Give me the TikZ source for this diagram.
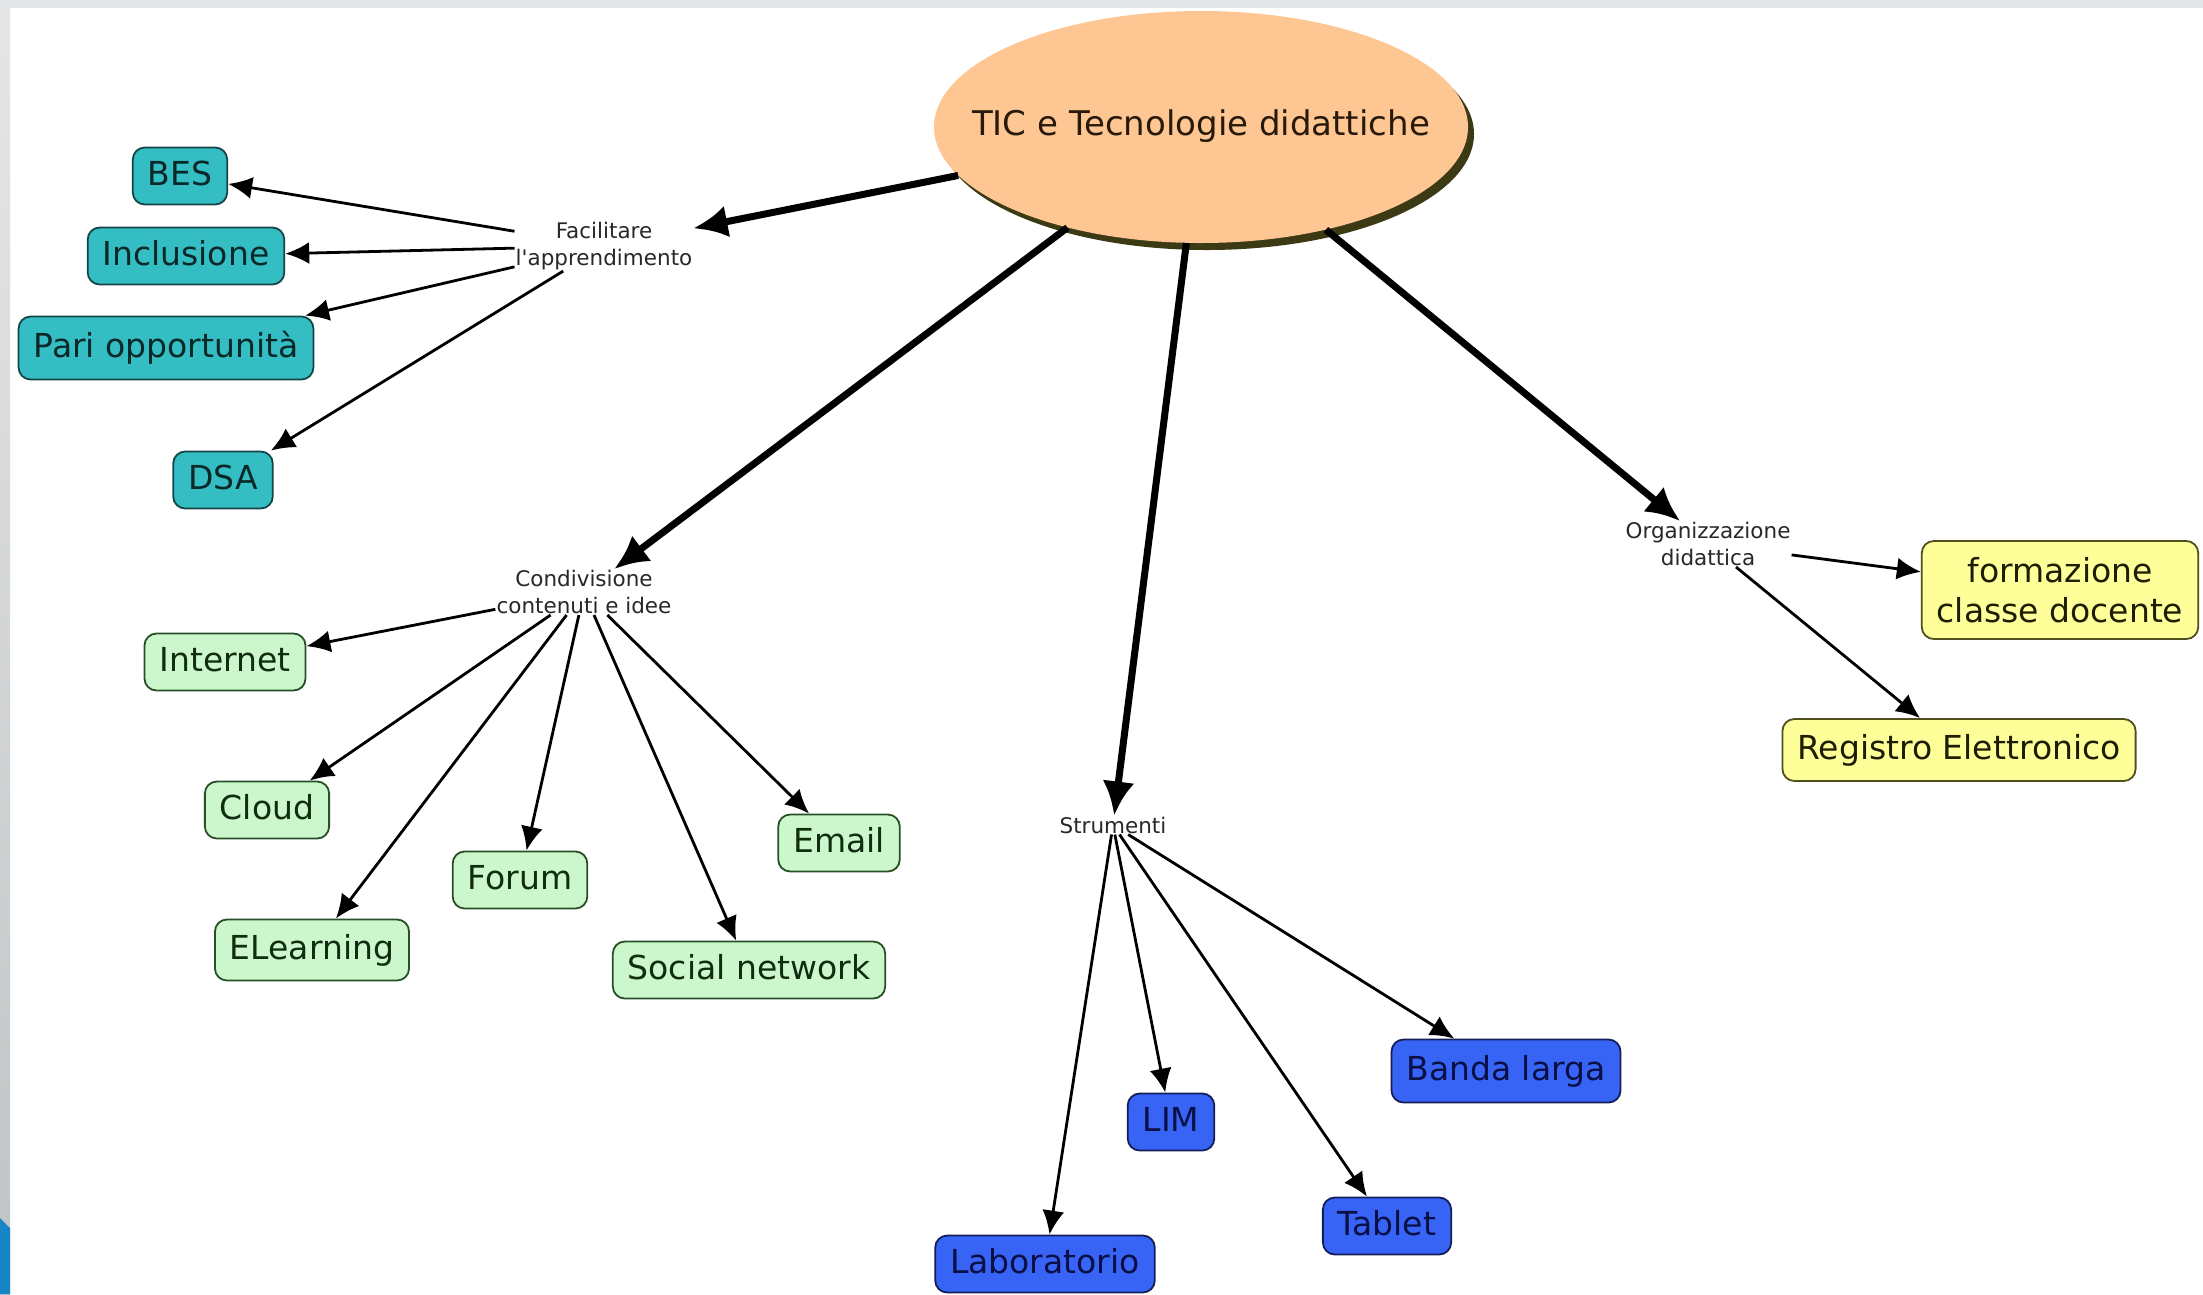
\documentclass[tikz,border=0pt]{standalone}
\usepackage{fontspec}
\setmainfont{DejaVu Sans}
\usetikzlibrary{arrows.meta,shapes.geometric,shadows}
\definecolor{tealfill}{RGB}{52,189,194}
\definecolor{tealline}{RGB}{20,70,72}
\definecolor{tealtext}{RGB}{10,40,40}
\definecolor{greenfill}{RGB}{204,246,204}
\definecolor{greenline}{RGB}{40,80,40}
\definecolor{greentext}{RGB}{15,45,15}
\definecolor{bluefill}{RGB}{55,100,245}
\definecolor{blueline}{RGB}{20,30,90}
\definecolor{bluetext}{RGB}{10,15,70}
\definecolor{yellowfill}{RGB}{255,255,153}
\definecolor{yellowline}{RGB}{80,80,30}
\definecolor{yellowtext}{RGB}{30,30,5}
\definecolor{peach}{RGB}{253,198,146}
\definecolor{shadowcol}{RGB}{60,58,20}
\definecolor{roottext}{RGB}{40,25,10}
\definecolor{lbltext}{RGB}{40,40,40}
\definecolor{graystrip}{RGB}{229,230,231}
\definecolor{graydark}{RGB}{192,196,198}
\definecolor{edgeblue}{RGB}{23,133,198}
\begin{document}
\begin{tikzpicture}[x=1pt,y=-1pt,
  boxbase/.style={rounded corners=12pt, line width=1.8pt, inner xsep=15pt, inner ysep=0pt,
    font=\fontsize{33}{40}\selectfont, align=center},
  box/.style={boxbase, minimum height=57pt, text height=25pt, text depth=7pt},
  tealbox/.style={box, fill=tealfill, draw=tealline, text=tealtext},
  greenbox/.style={box, fill=greenfill, draw=greenline, text=greentext},
  bluebox/.style={box, fill=bluefill, draw=blueline, text=bluetext},
  yellowbox/.style={box, fill=yellowfill, draw=yellowline, text=yellowtext},
  lbl/.style={font=\fontsize{21.5}{27}\selectfont, align=center, inner sep=1pt, text=lbltext},
  rootnode/.style={ellipse, fill=peach, minimum width=534pt, minimum height=232pt, inner sep=0pt,
    text height=10pt, text depth=0pt,
    font=\fontsize{34}{40}\selectfont, text=roottext,
    drop shadow={shadow xshift=6pt, shadow yshift=-7pt, fill=shadowcol, opacity=1}},
  smallarrow/.style={-{Latex[length=24pt,width=22pt]}, line width=2.8pt},
  bigarrow/.style={-{Latex[length=34pt,width=32pt]}, line width=7pt}
]
\useasboundingbox (0,0) rectangle (2203,1294);
\fill[white] (0,0) rectangle (2203,1294);
\fill[graystrip] (0,0) rectangle (2203,8);
\shade[top color=graystrip, bottom color=graydark] (0,0) rectangle (10,1294);
\fill[edgeblue] (0,1218) -- (10,1228) -- (10,1294) -- (0,1294) -- cycle;

% root
\node[rootnode] (root) at (1201,127) {\makebox[0pt]{\raisebox{-3pt}[0pt][0pt]{TIC e Tecnologie didattiche}}};

% concept labels
\node[lbl] (fac) at (604,246) {Facilitare\\l\textquotesingle apprendimento};
\node[lbl] (cond) at (584,592) {Condivisione\\contenuti e idee};
\node[lbl] (stru) at (1113,825) {Strumenti};
\node[lbl] (org) at (1708,544) {Organizzazione\\didattica};

% teal leaves
\node[tealbox] (bes) at (180,176) {BES};
\node[tealbox] (incl) at (186,256) {Inclusione};
\node[tealbox, minimum height=63pt] (pari) at (166,348) {Pari opportunità};
\node[tealbox] (dsa) at (223,480) {DSA};

% green leaves
\node[greenbox] (internet) at (225,662) {Internet};
\node[greenbox] (cloud) at (267,810) {Cloud};
\node[greenbox, minimum height=61pt] (elearn) at (312,950) {ELearning};
\node[greenbox] (forum) at (520,880) {Forum};
\node[greenbox] (social) at (749,970) {Social network};
\node[greenbox] (email) at (839,843) {Email};

% blue leaves
\node[bluebox] (lab) at (1045,1264) {Laboratorio};
\node[bluebox] (lim) at (1171,1122) {LIM};
\node[bluebox] (tablet) at (1387,1226) {Tablet};
\node[bluebox, minimum height=63pt] (banda) at (1506,1071) {Banda larga};

% yellow leaves
\node[boxbase, fill=yellowfill, draw=yellowline, text=yellowtext, minimum height=98pt] (form) at (2060,590) {formazione\\classe docente};
\node[yellowbox, minimum height=62pt] (reg) at (1959,750) {Registro Elettronico};

% thick connectors
\draw[bigarrow] (root) -- (fac);
\draw[bigarrow] (root) -- (cond);
\draw[bigarrow] (root) -- (stru);
\draw[bigarrow] (root) -- (org);

% thin connectors
\draw[smallarrow] (fac) -- (bes);
\draw[smallarrow] (fac) -- (incl);
\draw[smallarrow] (fac) -- (pari);
\draw[smallarrow] (fac) -- (dsa);

\draw[smallarrow] (cond) -- (internet);
\draw[smallarrow] (cond) -- (cloud);
\draw[smallarrow] (cond) -- (elearn);
\draw[smallarrow] (cond) -- (forum);
\draw[smallarrow] (cond) -- (social);
\draw[smallarrow] (cond) -- (email);

\draw[smallarrow] (stru) -- (lab);
\draw[smallarrow] (stru) -- (lim);
\draw[smallarrow] (stru) -- (tablet);
\draw[smallarrow] (stru) -- (banda);

\draw[smallarrow] (org) -- (form);
\draw[smallarrow] (org) -- (reg);
\end{tikzpicture}
\end{document}
